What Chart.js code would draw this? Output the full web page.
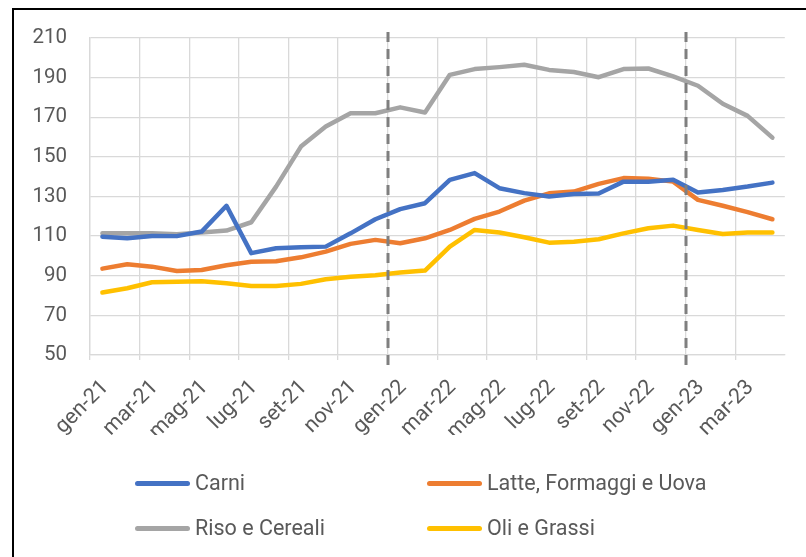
<!DOCTYPE html>
<html>
<head>
<meta charset="utf-8">
<script src="https://cdn.jsdelivr.net/npm/chart.js@4.4.0/dist/chart.umd.min.js"></script>
<style>
  body { margin: 0; background: #fff; }
  #wrap { position: relative; width: 806px; height: 557px; overflow: hidden; font-family: Roboto, "Liberation Sans", sans-serif; }
  #frame { position: absolute; left: 12px; top: 8px; width: 900px; height: 700px; border: 2px solid #000; }
  #chart { position: absolute; left: 0; top: 0; }
  .item { position: absolute; height: 25px; line-height: 25px; font-size: 21.5px; color: #595959; white-space: nowrap; }
  .item span.swatch { position: absolute; left: 0; top: 10px; width: 55px; height: 5px; border-radius: 3px; }
  .item span.txt { position: absolute; left: 60px; top: -1px; }
</style>
</head>
<body>
<div id="wrap">
  <div id="frame"></div>
  <canvas id="chart" width="806" height="557"></canvas>
  <div id="legend"></div>
</div>
<script>
// months gen-21 .. apr-23
const months = ['gen-21','feb-21','mar-21','apr-21','mag-21','giu-21','lug-21','ago-21','set-21','ott-21','nov-21','dic-21',
                'gen-22','feb-22','mar-22','apr-22','mag-22','giu-22','lug-22','ago-22','set-22','ott-22','nov-22','dic-22',
                'gen-23','feb-23','mar-23','apr-23'];

const carni = [109.7,108.9,110.1,110.0,112.3,125.3,101.4,103.9,104.4,104.7,111.4,118.5,
               123.6,126.6,138.4,141.8,134.2,131.7,130.0,131.3,131.5,137.5,137.5,138.4,
               132.0,133.3,135.0,137.0];
const latte = [93.6,95.8,94.6,92.4,92.9,95.3,97.1,97.3,99.3,102.2,106.1,108.1,
               106.4,108.9,113.1,118.7,122.4,127.9,131.6,132.5,136.4,139.3,139.0,137.5,
               128.3,125.3,122.1,118.5];
const riso = [111.4,111.4,111.4,111.0,111.8,112.8,117.0,135.0,155.2,165.3,172.0,172.0,
              175.0,172.4,191.4,194.3,195.3,196.5,193.9,192.8,190.2,194.3,194.6,190.6,
              185.9,176.8,170.7,159.7];
const oli = [81.5,83.7,86.7,87.0,87.2,86.2,84.8,84.8,85.9,88.2,89.5,90.2,
             91.6,92.6,104.7,113.1,111.8,109.4,106.7,107.2,108.4,111.4,114.0,115.3,
             113.1,111.1,111.8,111.8];

const seriesNames = ['Carni', 'Latte, Formaggi e Uova', 'Riso e Cereali', 'Oli e Grassi'];
const seriesColors = ['#4472C4', '#ED7D31', '#A5A5A5', '#FFC000'];
const yMin = 50, yMax = 210, yStep = 20;
const dividerMonths = ['gen-22', 'gen-23'];

const textColor = '#595959';
const gridColor = '#d9d9d9';

// dashed vertical lines at the start of each year
const dividerPlugin = {
    id: 'dividers',
    afterDatasetsDraw(chart) {
        const ctx = chart.ctx;
        const x = chart.scales.x;
        const area = chart.chartArea;
        ctx.save();
        ctx.strokeStyle = '#7f7f7f';
        ctx.lineWidth = 3;
        ctx.setLineDash([10, 7]);
        dividerMonths.forEach(m => {
            const px = Math.round(x.getPixelForValue(months.indexOf(m) - 0.5));
            ctx.beginPath();
            ctx.moveTo(px, area.top - 6);
            ctx.lineTo(px, area.bottom + 17);
            ctx.stroke();
        });
        ctx.restore();
    }
};

const seriesData = [carni, latte, riso, oli];

const chart = new Chart(document.getElementById('chart').getContext('2d'), {
    type: 'line',
    data: {
        labels: months,
        datasets: seriesData.map((d, i) => ({
            label: seriesNames[i],
            data: d,
            borderColor: seriesColors[i],
            backgroundColor: seriesColors[i],
            borderWidth: 4.5,
            pointRadius: 0,
            tension: 0,
            borderCapStyle: 'round',
            borderJoinStyle: 'round'
        }))
    },
    options: {
        responsive: false,
        animation: false,
        devicePixelRatio: 1,
        layout: { padding: { top: 38, right: 20, bottom: 122, left: 0 } },
        plugins: {
            legend: { display: false },
            tooltip: { enabled: false }
        },
        scales: {
            x: {
                offset: true,
                afterFit: s => { s.height = 80; },
                grid: {
                    offset: true,
                    drawTicks: true,
                    tickLength: 5,
                    lineWidth: 1.3,
                    color: c => (c.index % 2 === 0 ? gridColor : 'rgba(0,0,0,0)')
                },
                border: { color: gridColor, width: 1.3 },
                ticks: {
                    autoSkip: false,
                    maxRotation: 45,
                    minRotation: 45,
                    padding: 15,
                    labelOffset: 3,
                    color: textColor,
                    font: { family: 'Roboto', size: 21.5 },
                    callback: (v, i) => (i % 2 === 0 ? months[i] : '')
                }
            },
            y: {
                min: yMin,
                max: yMax,
                afterFit: s => { s.width = 90; },
                grid: { color: gridColor, lineWidth: 1.3, drawTicks: false },
                border: { color: gridColor, width: 1.3 },
                ticks: {
                    stepSize: yStep,
                    padding: 23,
                    color: textColor,
                    font: { family: 'Roboto', size: 20.5 }
                }
            }
        }
    },
    plugins: [dividerPlugin]
});

// legend in two columns, like the original
function buildLegend(chart) {
    const el = document.getElementById('legend');
    const cols = [135, 427];
    const rows = [471, 516];
    chart.data.datasets.forEach((ds, i) => {
        const item = document.createElement('div');
        item.className = 'item';
        item.style.left = cols[i % 2] + 'px';
        item.style.top = rows[Math.floor(i / 2)] + 'px';
        item.innerHTML = '<span class="swatch" style="background:' + ds.borderColor + '"></span>' +
                         '<span class="txt">' + ds.label + '</span>';
        el.appendChild(item);
    });
}
buildLegend(chart);
</script>
</body>
</html>
